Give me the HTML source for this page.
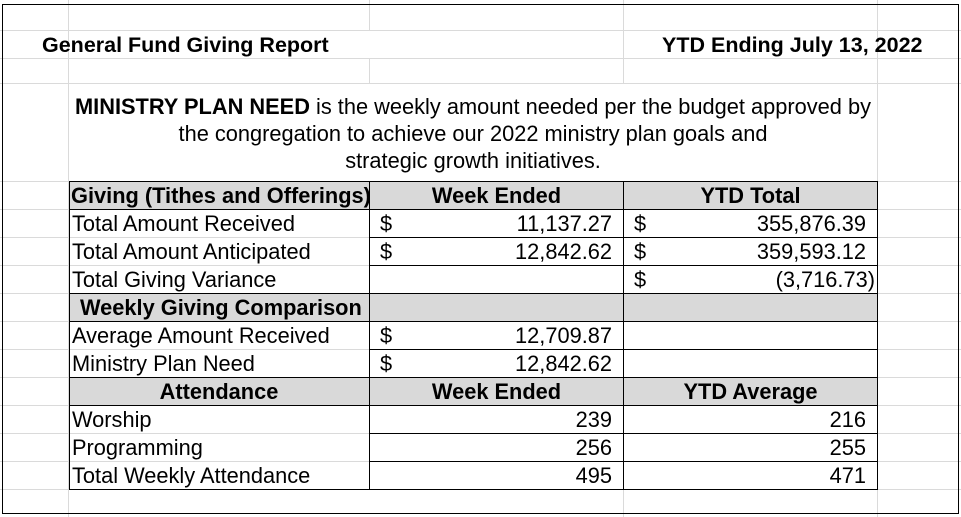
<!DOCTYPE html>
<html><head><style>
body{margin:0;width:961px;height:517px;background:#fff;position:relative;overflow:hidden;font-family:"Liberation Sans",Arial,sans-serif;color:#000}
.a{position:absolute;white-space:nowrap}
.gv{position:absolute;width:1px;background:#dadada}
.gh{position:absolute;height:1px;background:#dadada}
.bl{position:absolute;background:#000}
.gray{position:absolute;background:#d9d9d9}
.t{font-size:21.8px;line-height:28px}
.b{font-weight:bold}
</style></head><body>
<div class="gv" style="left:68px;top:0;height:517px"></div>
<div class="gv" style="left:369px;top:0;height:90px"></div>
<div class="gv" style="left:623px;top:0;height:517px"></div>
<div class="gv" style="left:877px;top:0;height:517px"></div>
<div class="gh" style="left:0;top:30px;width:961px"></div>
<div class="gh" style="left:0;top:58px;width:961px"></div>
<div class="gh" style="left:0;top:83px;width:961px"></div>
<div class="gh" style="left:0;top:181px;width:961px"></div>
<div class="gh" style="left:0;top:209px;width:961px"></div>
<div class="gh" style="left:0;top:237px;width:961px"></div>
<div class="gh" style="left:0;top:265px;width:961px"></div>
<div class="gh" style="left:0;top:293px;width:961px"></div>
<div class="gh" style="left:0;top:321px;width:961px"></div>
<div class="gh" style="left:0;top:349px;width:961px"></div>
<div class="gh" style="left:0;top:377px;width:961px"></div>
<div class="gh" style="left:0;top:405px;width:961px"></div>
<div class="gh" style="left:0;top:433px;width:961px"></div>
<div class="gh" style="left:0;top:461px;width:961px"></div>
<div class="gh" style="left:0;top:489px;width:961px"></div>
<div style="position:absolute;left:69px;top:84px;width:808px;height:97px;background:#fff"></div>
<div style="position:absolute;left:69px;top:31px;width:553px;height:27px;background:#fff"></div>
<div style="position:absolute;left:624px;top:31px;width:253px;height:27px;background:#fff"></div>
<div style="position:absolute;left:2px;top:4px;width:955px;height:508px;border:1px solid #000"></div>
<div class="gray" style="left:69px;top:181px;width:808px;height:28px"></div>
<div class="gray" style="left:69px;top:293px;width:808px;height:28px"></div>
<div class="gray" style="left:69px;top:377px;width:808px;height:28px"></div>
<div class="bl" style="left:69px;top:181px;width:1px;height:308px"></div>
<div class="bl" style="left:369px;top:181px;width:1px;height:308px"></div>
<div class="bl" style="left:623px;top:181px;width:1px;height:308px"></div>
<div class="bl" style="left:877px;top:181px;width:1px;height:308px"></div>
<div class="bl" style="left:69px;top:181px;width:809px;height:1px"></div>
<div class="bl" style="left:69px;top:209px;width:809px;height:1px"></div>
<div class="bl" style="left:369px;top:237px;width:509px;height:1px"></div>
<div class="bl" style="left:369px;top:265px;width:509px;height:1px"></div>
<div class="bl" style="left:69px;top:293px;width:809px;height:1px"></div>
<div class="bl" style="left:69px;top:321px;width:809px;height:1px"></div>
<div class="bl" style="left:369px;top:349px;width:509px;height:1px"></div>
<div class="bl" style="left:69px;top:377px;width:809px;height:1px"></div>
<div class="bl" style="left:69px;top:405px;width:809px;height:1px"></div>
<div class="bl" style="left:369px;top:433px;width:509px;height:1px"></div>
<div class="bl" style="left:369px;top:461px;width:509px;height:1px"></div>
<div class="bl" style="left:69px;top:489px;width:809px;height:1px"></div>
<div class="a b" style="left:42px;top:33px;font-size:21.5px">General Fund Giving Report</div>
<div class="a b" style="left:662px;top:33px;font-size:21.5px">YTD Ending July 13, 2022</div>
<div class="a" style="left:60px;top:93px;width:826px;text-align:center;font-size:21.8px;line-height:27px;white-space:normal">
<b>MINISTRY PLAN NEED</b> is the weekly amount needed per the budget approved by<br>the congregation to achieve our 2022 ministry plan goals and<br>strategic growth initiatives.</div>
<div class="a t b" style="left:71px;top:182px">Giving (Tithes and Offerings)</div>
<div class="a t b" style="left:370px;top:182px;width:253px;text-align:center">Week Ended</div>
<div class="a t b" style="left:624px;top:182px;width:253px;text-align:center">YTD Total</div>
<div class="a t" style="left:72px;top:210px">Total Amount Received</div>
<div class="a t" style="left:72px;top:238px">Total Amount Anticipated</div>
<div class="a t" style="left:72px;top:266px">Total Giving Variance</div>
<div class="a t b" style="left:80px;top:294px">Weekly Giving Comparison</div>
<div class="a t" style="left:72px;top:322px">Average Amount Received</div>
<div class="a t" style="left:72px;top:350px">Ministry Plan Need</div>
<div class="a t b" style="left:69px;top:378px;width:300px;text-align:center">Attendance</div>
<div class="a t b" style="left:370px;top:378px;width:253px;text-align:center">Week Ended</div>
<div class="a t b" style="left:624px;top:378px;width:253px;text-align:center">YTD Average</div>
<div class="a t" style="left:72px;top:406px">Worship</div>
<div class="a t" style="left:72px;top:434px">Programming</div>
<div class="a t" style="left:72px;top:462px">Total Weekly Attendance</div>
<div class="a t" style="left:380px;top:210px">$</div>
<div class="a t" style="left:380px;top:238px">$</div>
<div class="a t" style="left:380px;top:322px">$</div>
<div class="a t" style="left:380px;top:350px">$</div>
<div class="a t" style="left:634px;top:210px">$</div>
<div class="a t" style="left:634px;top:238px">$</div>
<div class="a t" style="left:634px;top:266px">$</div>
<div class="a t" style="right:349px;top:210px">11,137.27</div>
<div class="a t" style="right:349px;top:238px">12,842.62</div>
<div class="a t" style="right:349px;top:322px">12,709.87</div>
<div class="a t" style="right:349px;top:350px">12,842.62</div>
<div class="a t" style="right:95px;top:210px">355,876.39</div>
<div class="a t" style="right:95px;top:238px">359,593.12</div>
<div class="a t" style="right:86px;top:266px">(3,716.73)</div>
<div class="a t" style="right:349px;top:406px">239</div>
<div class="a t" style="right:349px;top:434px">256</div>
<div class="a t" style="right:349px;top:462px">495</div>
<div class="a t" style="right:95px;top:406px">216</div>
<div class="a t" style="right:95px;top:434px">255</div>
<div class="a t" style="right:95px;top:462px">471</div>
</body></html>
